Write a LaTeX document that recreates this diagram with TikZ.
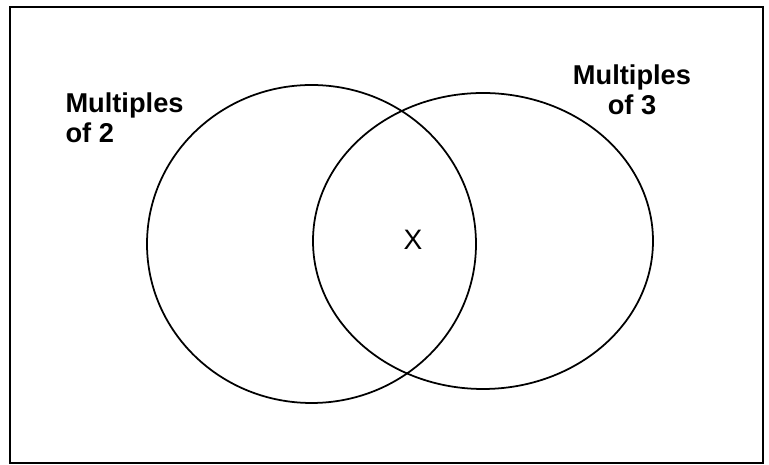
\documentclass[tikz,border=0pt]{standalone}
\usepackage{fontspec}
\setmainfont{Liberation Sans}
\usetikzlibrary{positioning}

\begin{document}
\begin{tikzpicture}[x=0.02cm, y=-0.02cm, semithick,
    setline/.style={line width=1pt},
    setlabel/.style={inner sep=0pt, font=\fontsize{15.5}{17}\selectfont\bfseries}]
    \useasboundingbox (0,0) rectangle (769,465);
    \draw[line width=1.3pt] (10,7) rectangle (763,463);

    \draw[setline] (311.5,244) ellipse [x radius=164.5, y radius=159];
    \draw[setline] (483,241) ellipse [x radius=170, y radius=148];

    \node[setlabel, anchor=north west, align=left] (two) at (65,92) {Multiples\\of 2};
    \node[setlabel, anchor=north, align=center] (three) at (632,64) {Multiples\\of 3};
    \node[inner sep=0pt, font=\fontsize{16}{18}\selectfont] (x) at (413,240) {X};
\end{tikzpicture}
\end{document}
